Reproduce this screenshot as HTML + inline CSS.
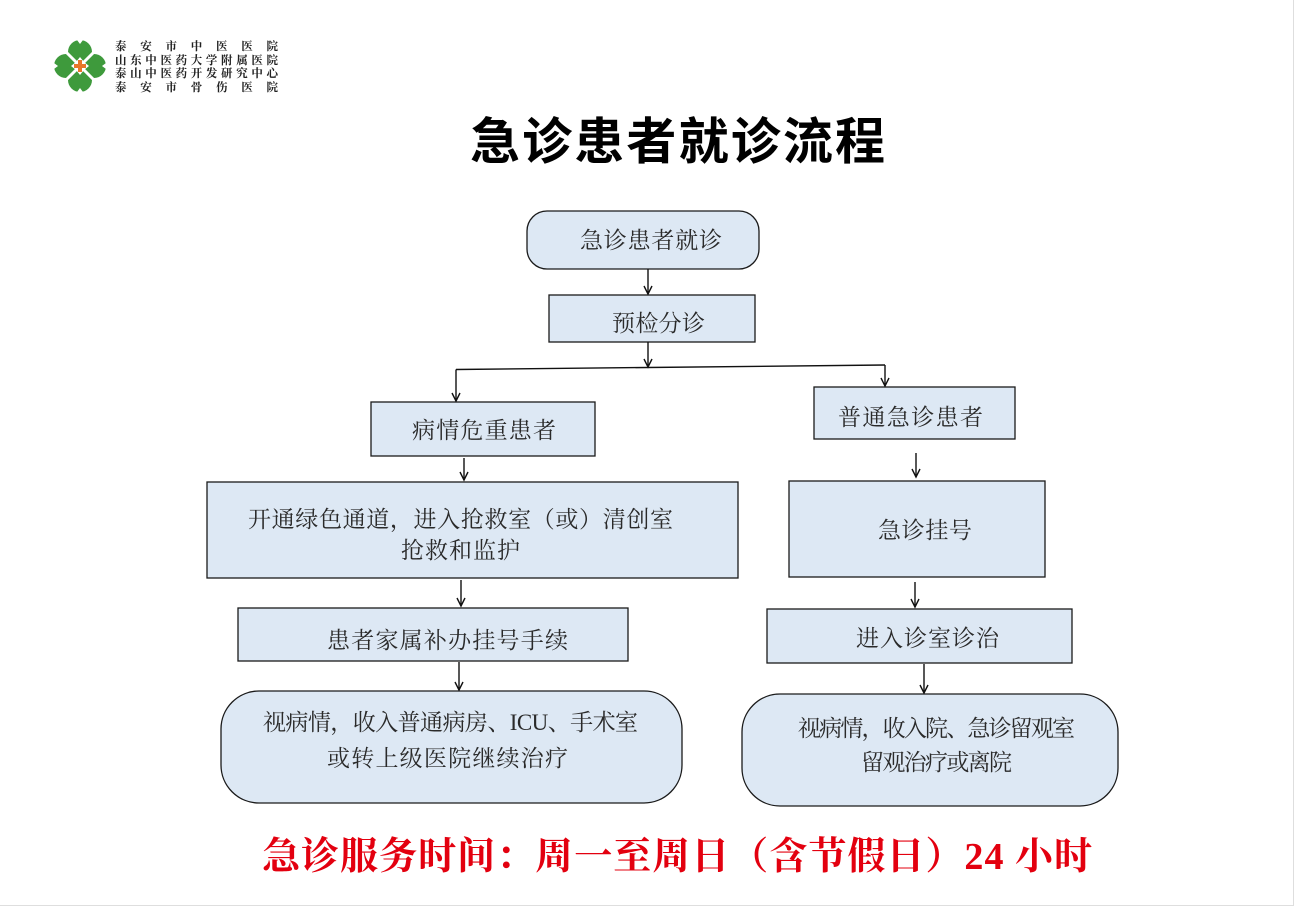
<!DOCTYPE html>
<html>
<head>
<meta charset="utf-8">
<style>
  html, body { margin: 0; padding: 0; background: #fff; }
  body { width: 1294px; height: 906px; overflow: hidden; }
  svg { display: block; }
  .bx { fill: #dde8f4; stroke: #1a1a1a; stroke-width: 1.3; }
  .t { font-family: "Liberation Serif", "Noto Serif CJK SC", serif; font-size: 23px; fill: #2a2a2a; }
  .ln { stroke: #111; stroke-width: 1.4; fill: none; }
</style>
</head>
<body>
<svg width="1294" height="906" viewBox="0 0 1294 906" xmlns="http://www.w3.org/2000/svg">
  <rect x="0" y="0" width="1294" height="906" fill="#fff"/>
  <line x1="1293.5" y1="0" x2="1293.5" y2="906" stroke="#dedede" stroke-width="1"/>
  <line x1="0" y1="905.5" x2="1294" y2="905.5" stroke="#dedede" stroke-width="1"/>

  <!-- Logo -->
  <g>
    <circle cx="80" cy="52" r="12" fill="#3e9a3c"/>
    <circle cx="80" cy="80" r="12" fill="#3e9a3c"/>
    <circle cx="66" cy="66" r="12" fill="#3e9a3c"/>
    <circle cx="94" cy="66" r="12" fill="#3e9a3c"/>
    <line x1="62" y1="48" x2="98" y2="84" stroke="#fff" stroke-width="3"/>
    <line x1="98" y1="48" x2="62" y2="84" stroke="#fff" stroke-width="3"/>
    <path d="M80 57 L84 62 L89 66 L84 70 L80 75 L76 70 L71 66 L76 62 Z" fill="#fff"/>
    <rect x="78" y="60" width="4" height="12" fill="#e8762a"/>
    <rect x="74" y="64" width="12" height="4" fill="#e8762a"/>
    <path d="M77 40 L80 44 L83 40" fill="#fff"/>
    <path d="M77 92 L80 88 L83 92" fill="#fff"/>
    <path d="M54 63 L58 66 L54 69" fill="#fff"/>
    <path d="M106 63 L102 66 L106 69" fill="#fff"/>
  </g>
  <g font-family="'Liberation Serif','Noto Serif CJK SC',serif" font-size="11.5" font-weight="700" fill="#222">
    <text x="115" y="50" textLength="163" lengthAdjust="spacing">泰安市中医医院</text>
    <text x="115" y="64" textLength="163" lengthAdjust="spacing">山东中医药大学附属医院</text>
    <text x="115" y="77" textLength="163" lengthAdjust="spacing">泰山中医药开发研究中心</text>
    <text x="115" y="91" textLength="163" lengthAdjust="spacing">泰安市骨伤医院</text>
  </g>

  <!-- Title -->
  <text x="470" y="159" textLength="415" lengthAdjust="spacing" font-family="'Liberation Sans','Noto Sans CJK SC',sans-serif" font-size="50" font-weight="700" fill="#000">急诊患者就诊流程</text>

  <!-- Boxes -->
  <rect class="bx" x="527" y="211" width="232" height="58" rx="20" ry="20"/>
  <text class="t" x="580" y="248" textLength="142" lengthAdjust="spacing">急诊患者就诊</text>

  <rect class="bx" x="549" y="295" width="206" height="47"/>
  <text class="t" x="612" y="331" textLength="93" lengthAdjust="spacing">预检分诊</text>

  <rect class="bx" x="371" y="402" width="224" height="54"/>
  <text class="t" x="412" y="438" textLength="144" lengthAdjust="spacing">病情危重患者</text>

  <rect class="bx" x="814" y="387" width="201" height="52"/>
  <text class="t" x="838" y="425" textLength="145" lengthAdjust="spacing">普通急诊患者</text>

  <rect class="bx" x="207" y="482" width="531" height="96"/>
  <text class="t" x="248" y="527" textLength="425" lengthAdjust="spacing">开通绿色通道，进入抢救室（或）清创室</text>
  <text class="t" x="401" y="558" textLength="119" lengthAdjust="spacing">抢救和监护</text>

  <rect class="bx" x="238" y="608" width="390" height="53"/>
  <text class="t" x="327" y="648" textLength="241" lengthAdjust="spacing">患者家属补办挂号手续</text>

  <rect class="bx" x="221" y="691" width="461" height="112" rx="38" ry="38"/>
  <text class="t" x="263" y="730" textLength="375" lengthAdjust="spacing">视病情，收入普通病房、ICU、手术室</text>
  <text class="t" x="327" y="766" textLength="241" lengthAdjust="spacing">或转上级医院继续治疗</text>

  <rect class="bx" x="789" y="481" width="256" height="96"/>
  <text class="t" x="878" y="538" textLength="94" lengthAdjust="spacing">急诊挂号</text>

  <rect class="bx" x="767" y="609" width="305" height="54"/>
  <text class="t" x="856" y="646" textLength="143" lengthAdjust="spacing">进入诊室诊治</text>

  <rect class="bx" x="742" y="694" width="376" height="112" rx="38" ry="38"/>
  <text class="t" x="798" y="736" textLength="277" lengthAdjust="spacing">视病情，收入院、急诊留观室</text>
  <text class="t" x="861" y="770" textLength="151" lengthAdjust="spacing">留观治疗或离院</text>

  <!-- Connectors -->
  <g class="ln">
    <line x1="648" y1="269" x2="648" y2="294"/>
    <polyline points="644,286 648,294 652,286"/>
    <line x1="648" y1="342" x2="648" y2="367"/>
    <polyline points="644,359 648,367 652,359"/>
    <line x1="456" y1="369.5" x2="885" y2="365"/>
    <line x1="456" y1="369.5" x2="456" y2="401"/>
    <polyline points="452,393 456,401 460,393"/>
    <line x1="885" y1="365" x2="885" y2="386"/>
    <polyline points="881,378 885,386 889,378"/>
    <line x1="464" y1="458" x2="464" y2="480"/>
    <polyline points="460,472 464,480 468,472"/>
    <line x1="461" y1="580" x2="461" y2="606"/>
    <polyline points="457,598 461,606 465,598"/>
    <line x1="459" y1="662" x2="459" y2="690"/>
    <polyline points="455,682 459,690 463,682"/>
    <line x1="916" y1="453" x2="916" y2="477"/>
    <polyline points="912,469 916,477 920,469"/>
    <line x1="915" y1="582" x2="915" y2="607"/>
    <polyline points="911,599 915,607 919,599"/>
    <line x1="924" y1="664" x2="924" y2="693"/>
    <polyline points="920,685 924,693 928,685"/>
  </g>

  <!-- Footer -->
  <text x="262" y="869" textLength="830" lengthAdjust="spacing" font-family="'Liberation Serif','Noto Serif CJK SC',serif" font-size="38" font-weight="700" fill="#e3000f">急诊服务时间：周一至周日（含节假日）24 小时</text>
</svg>
</body>
</html>
